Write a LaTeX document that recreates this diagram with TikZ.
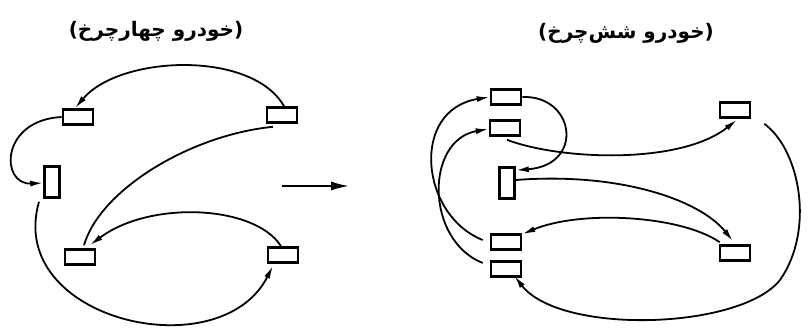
\documentclass[tikz,border=0pt]{standalone}
\usepackage{fontspec}
\usetikzlibrary{arrows.meta}
\newfontfamily\arabicfont[Script=Arabic]{DejaVu Sans}
\TeXXeTstate=1
\begin{document}
\begin{tikzpicture}[x=1pt,y=-1pt,
  hbox/.style={draw, line width=2.6pt, rectangle, minimum width=30pt, minimum height=15pt, inner sep=0pt},
  vbox/.style={draw, line width=2.6pt, rectangle, minimum width=15pt, minimum height=31pt, inner sep=0pt},
  conn/.style={line width=1.8pt},
  arr/.style={conn, -{Latex[length=13pt,width=6pt]}},
  title/.style={font=\arabicfont\bfseries\fontsize{20}{22}\selectfont, inner sep=0pt}]
\fill[white] (0,0) rectangle (807,328);
\useasboundingbox (0,0) rectangle (807,328);
% titles
\node[title] (t1) at (156,31) {\beginR(خودرو چهارچرخ)\endR};
\node[title] (t2) at (626,33) {\beginR(خودرو شش‌چرخ)\endR};
% left diagram
\node[hbox] (A) at (78,117) {};
\node[hbox] (B) at (282,115) {};
\node[vbox] (C) at (52,182) {};
\node[hbox] (D) at (80,257) {};
\node[hbox] (E) at (283,255) {};
\draw[arr] ([xshift=2pt]B.north) .. controls (252,50) and (120,55) .. ([xshift=-3pt]A.north);
\draw[arr] (A.west) .. controls (0,120) and (0,185) .. ([yshift=-1pt]C.west);
\draw[conn] ([xshift=-9pt,yshift=-3pt]B.south) .. controls (190,135) and (100,190) .. ([xshift=4pt,yshift=3pt]D.north);
\draw[arr] ([xshift=-2pt]E.north) .. controls (255,205) and (150,200) .. ([xshift=10pt,yshift=3pt]D.north);
\draw[arr] ([xshift=-13pt,yshift=-3pt]C.south) .. controls (5,320) and (220,370) .. ([xshift=-10pt,yshift=-2pt]E.south);
% middle arrow
\coordinate (m1) at (282,186);
\coordinate (m2) at (349,186);
\draw[line width=1.8pt, -{Latex[length=18pt,width=9pt]}] (m1) -- (m2);
% right diagram
\node[hbox] (R1) at (506,97) {};
\node[hbox] (R2) at (505,128) {};
\node[vbox] (R3) at (507,183) {};
\node[hbox] (R4) at (735,110) {};
\node[hbox] (R5) at (506,242) {};
\node[hbox] (R6) at (506,269) {};
\node[hbox] (R7) at (735,253) {};
\coordinate (k) at (780,280);
\draw[arr] (R1.east) .. controls (575,95) and (585,165) .. ([yshift=-4pt]R3.north east);
\draw[arr] ([xshift=2pt,yshift=-3pt]R2.south) .. controls (560,160) and (680,165) .. ([xshift=2pt,yshift=-1pt]R4.south);
\draw[arr] ([yshift=3pt]R3.east) .. controls (620,172) and (700,200) .. ([xshift=-2pt,yshift=3pt]R7.north);
\draw[arr] ([xshift=1pt,yshift=2pt]R7.north west) .. controls (680,215) and (580,210) .. ([yshift=-1pt]R5.north east);
\draw[conn] ([xshift=13pt,yshift=-5pt]R4.south east) .. controls (800,150) and (815,230) .. (k);
\draw[arr] (k) .. controls (740,330) and (560,335) .. ([xshift=-8pt,yshift=2pt]R6.south east);
\draw[arr] ([xshift=-7pt,yshift=2pt]R5.west) .. controls (420,215) and (410,110) .. (R1.west);
\draw[arr] ([xshift=-7pt,yshift=6pt]R6.west) .. controls (425,240) and (425,140) .. ([yshift=-1pt]R2.west);
\end{tikzpicture}
\end{document}
